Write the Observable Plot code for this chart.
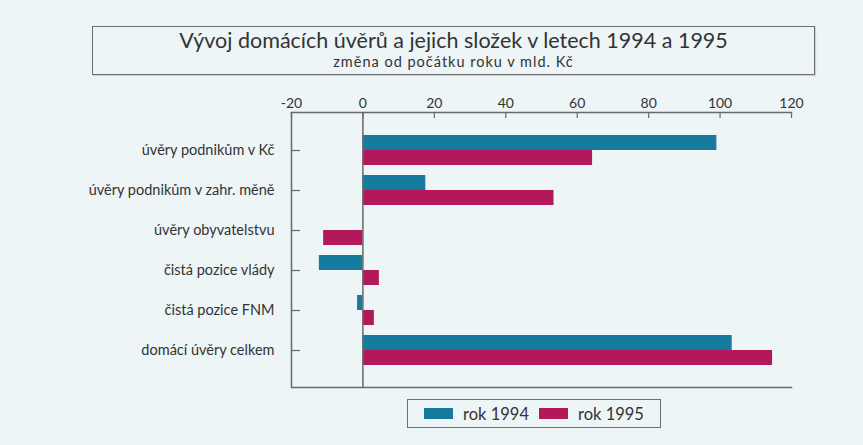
<!DOCTYPE html>
<html>
<head>
<meta charset="utf-8">
<script src="https://cdn.jsdelivr.net/npm/d3@7"></script>
<script src="https://cdn.jsdelivr.net/npm/@observablehq/plot@0.6"></script>
<style>
  html, body { margin: 0; padding: 0; background: #edf5f7; }
  #wrap { position: relative; width: 863px; height: 445px; font-family: Lato, "Open Sans", sans-serif; color: #333; }
  #chart { position: absolute; left: 0; top: 0; }
  #titlebox { position: absolute; left: 92px; top: 26px; width: 721px; height: 47px; border: 1.5px solid #707070; text-align: center; box-shadow: 1px 1px 1px rgba(0,0,0,0.15); }
  #title { font-size: 21.5px; line-height: 26px; margin-top: 0; color: #333; }
  #subtitle { font-size: 14.5px; line-height: 18px; margin-top: 0; letter-spacing: 1px; color: #333; }
  #legend { position: absolute; left: 407px; top: 399px; width: 252px; height: 27px; border: 1.5px solid #707070; display: flex; align-items: center; justify-content: center; font-size: 16.5px; color: #333; }
  .sw { display: inline-block; width: 29px; height: 11px; margin-right: 10px; }
  .item { display: flex; align-items: center; margin: 0 5px; }
</style>
</head>
<body>
<div id="wrap">
  <div id="chart"></div>
  <div id="titlebox">
    <div id="title"></div>
    <div id="subtitle"></div>
  </div>
  <div id="legend"></div>
</div>
<script>
const titleText = "Vývoj domácích úvěrů a jejich složek v letech 1994 a 1995";
const subtitleText = "změna od počátku roku v mld. Kč";
const categories = [
  "úvěry podnikům v Kč",
  "úvěry podnikům v zahr. měně",
  "úvěry obyvatelstvu",
  "čistá pozice vlády",
  "čistá pozice FNM",
  "domácí úvěry celkem"
];
const values1994 = [99.1, 17.6, 0, -12.2, -1.5, 103.4];
const values1995 = [64.3, 53.5, -11.0, 4.6, 3.2, 114.7];
const seriesNames = ["rok 1994", "rok 1995"];
const seriesColors = ["#177a9f", "#b3195a"];
const xTicks = [-20, 0, 20, 40, 60, 80, 100, 120];

const rows = categories.map((c, i) => ({category: c, v1994: values1994[i], v1995: values1995[i]}));

document.getElementById("title").textContent = titleText;
document.getElementById("subtitle").textContent = subtitleText;

const lineColor = "#6a6a6a";
const chart = Plot.plot({
  width: 863,
  height: 445,
  marginLeft: 291,
  marginRight: 72,
  marginTop: 112,
  marginBottom: 58,
  style: {background: "transparent", fontFamily: "Lato, 'Open Sans', sans-serif", color: "#333"},
  x: {domain: [-20, 120]},
  y: {domain: categories, paddingInner: 0.25, paddingOuter: 0.125, insetTop: 17, insetBottom: 16.5},
  marks: [
    Plot.barX(rows, {y: "category", x: "v1994", fill: seriesColors[0], insetBottom: 15}),
    Plot.barX(rows, {y: "category", x: "v1995", fill: seriesColors[1], insetTop: 15}),
    Plot.ruleX([0], {stroke: lineColor, strokeWidth: 1.5}),
    Plot.ruleX([-20], {stroke: lineColor, strokeWidth: 1.5}),
    Plot.frame({anchor: "top", stroke: lineColor, strokeWidth: 1.5}),
    Plot.frame({anchor: "bottom", stroke: lineColor, strokeWidth: 1.5}),
    Plot.tickX(xTicks, {x: d => d, stroke: lineColor, strokeWidth: 1.2, insetBottom: 269}),
    Plot.tickY(categories, {y: d => d, stroke: lineColor, strokeWidth: 1.2, insetRight: 491}),
    Plot.axisX({anchor: "top", ticks: xTicks, tickSize: 0, tickPadding: 5, fontSize: 14, tickFormat: d => String(d), label: null}),
    Plot.axisY({anchor: "left", tickSize: 0, tickPadding: 17, fontSize: 14.5, label: null})
  ]
});
document.getElementById("chart").appendChild(chart);

const legend = document.getElementById("legend");
seriesNames.forEach((name, i) => {
  const item = document.createElement("div");
  item.className = "item";
  const sw = document.createElement("span");
  sw.className = "sw";
  sw.style.background = seriesColors[i];
  const t = document.createElement("span");
  t.textContent = name;
  item.appendChild(sw);
  item.appendChild(t);
  legend.appendChild(item);
});
</script>
</body>
</html>
